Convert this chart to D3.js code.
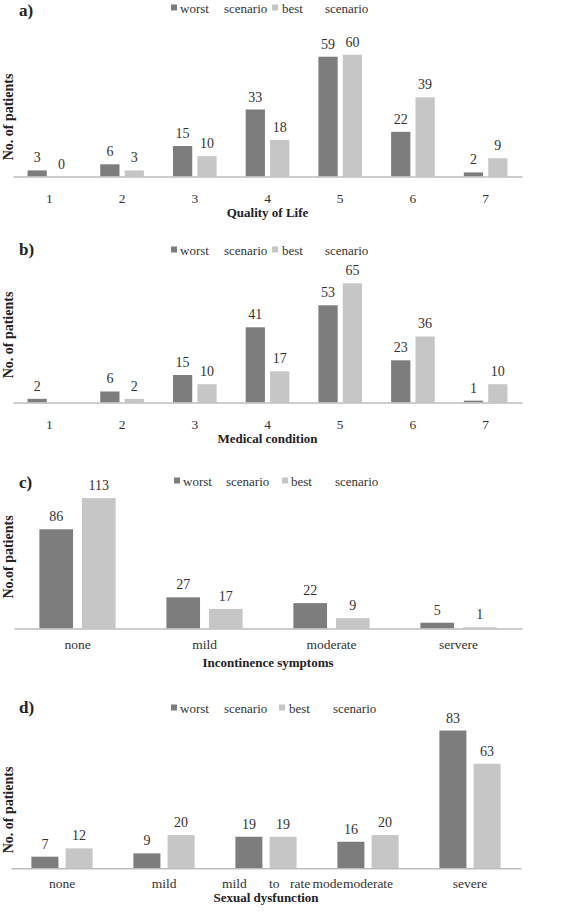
<!DOCTYPE html>
<html>
<head>
<meta charset="utf-8">
<script src="https://cdn.jsdelivr.net/npm/d3@7"></script>
<style>
  html, body { margin: 0; padding: 0; background: #fff; }
  svg text { font-family: "Liberation Serif", "Times New Roman", serif; }
</style>
</head>
<body>
<svg id="chart" width="567" height="913" font-family="Liberation Serif, serif"></svg>
<script>
// ---------- data ----------
const seriesNames = ["worst scenario", "best scenario"];

const qolCategories = ["1", "2", "3", "4", "5", "6", "7"];
const qolWorst = [3, 6, 15, 33, 59, 22, 2];
const qolBest  = [0, 3, 10, 18, 60, 39, 9];

const medCategories = ["1", "2", "3", "4", "5", "6", "7"];
const medWorst = [2, 6, 15, 41, 53, 23, 1];
const medBest  = [null, 2, 10, 17, 65, 36, 10];

const incCategories = ["none", "mild", "moderate", "servere"];
const incWorst = [86, 27, 22, 5];
const incBest  = [113, 17, 9, 1];

const sexCategories = ["none", "mild", "mild to rate mode", "moderate", "severe"];
const sexWorst = [7, 9, 19, 16, 83];
const sexBest  = [12, 20, 19, 20, 63];

const panelLetters = ["a)", "b)", "c)", "d)"];
const axisTitles = ["Quality of Life", "Medical condition", "Incontinence symptoms", "Sexual dysfunction"];
const yTitles = ["No. of patients", "No. of patients", "No.of patients", "No. of patients"];

// ---------- layout ----------
const FONT = "Liberation Serif, Times New Roman, serif";
const colors = ["#7d7d7d", "#c6c6c6"];
const panels = [
  { cats: qolCategories, worst: qolWorst, best: qolBest, x0: 13, x1: 522, base: 176.5, k: 2.03,
    tickY: 26, titleY: 40, legendY: 13, letterY: 16, yLabelC: 117,
    legX: [171, 180, 224, 272, 282, 325] },
  { cats: medCategories, worst: medWorst, best: medBest, x0: 13, x1: 522, base: 402.5, k: 1.834,
    tickY: 26, titleY: 40, legendY: 255, letterY: 255, yLabelC: 335,
    legX: [171, 180, 224, 272, 282, 325] },
  { cats: incCategories, worst: incWorst, best: incBest, x0: 14, x1: 522, base: 628.5, k: 1.154,
    tickY: 20.5, titleY: 38.5, legendY: 486, letterY: 488, yLabelC: 557,
    legX: [174, 183, 226, 282, 291, 335] },
  { cats: sexCategories, worst: sexWorst, best: sexBest, x0: 11, x1: 521, base: 868.3, k: 1.66,
    tickY: 19.5, titleY: 33.5, legendY: 713, letterY: 713, yLabelC: 810,
    legX: [171, 180, 224, 279, 289, 333] }
];

const svg = d3.select("#chart");

panels.forEach((p, i) => {
  const g = svg.append("g").attr("font-family", FONT);
  const x = d3.scaleBand().domain(p.cats).range([p.x0, p.x1]).paddingInner(0.4).paddingOuter(0.2);
  const xs = d3.scaleBand().domain(seriesNames).range([0, x.bandwidth()]).paddingInner(0.21).paddingOuter(0);
  const y = d3.scaleLinear().domain([0, 100]).range([p.base, p.base - 100 * p.k]);

  const rows = p.cats.map((c, j) => ({ cat: c, vals: [p.worst[j], p.best[j]] }));

  // bars
  const grp = g.selectAll("g.cat").data(rows).join("g").attr("class", "cat")
    .attr("transform", d => `translate(${x(d.cat)},0)`);
  grp.selectAll("rect").data(d => d.vals.map((v, s) => ({ v, s })).filter(d => d.v !== null))
    .join("rect")
    .attr("x", d => xs(seriesNames[d.s]))
    .attr("width", xs.bandwidth())
    .attr("y", d => y(d.v))
    .attr("height", d => y(0) - y(d.v))
    .attr("fill", d => colors[d.s]);
  grp.selectAll("text").data(d => d.vals.map((v, s) => ({ v, s })).filter(d => d.v !== null))
    .join("text")
    .attr("x", d => xs(seriesNames[d.s]) + xs.bandwidth() / 2)
    .attr("y", d => y(d.v) - 8)
    .attr("text-anchor", "middle")
    .attr("font-family", FONT)
    .attr("font-size", 14)
    .attr("fill", "#333")
    .text(d => d.v);

  // axis
  const ax = g.append("g").attr("transform", `translate(0,${p.base})`)
    .call(d3.axisBottom(x).tickSize(0).tickSizeOuter(0));
  ax.attr("font-family", FONT).attr("font-size", 13.5);
  ax.select(".domain").attr("stroke", "#bdbdbd").attr("stroke-width", 1.4);
  ax.selectAll(".tick text")
    .attr("y", p.tickY).attr("dy", 0)
    .attr("font-size", 13.5).attr("fill", "#333")
    .attr("font-family", FONT);
  // special spaced label in panel d
  ax.selectAll(".tick text").filter(d => d === "mild to rate mode").each(function () {
    const t = d3.select(this);
    t.text(null).attr("text-anchor", "start");
    const words = "mild to rate mode".split(" ");
    const offs = [-44, 3, 24, 46.5];
    words.forEach((w, wi) => t.append("tspan").attr("x", offs[wi]).text(w));
  });

  // axis title
  g.append("text")
    .attr("x", (p.x0 + p.x1) / 2)
    .attr("y", p.base + p.titleY)
    .attr("text-anchor", "middle")
    .attr("font-family", FONT)
    .attr("font-size", 13).attr("font-weight", "bold").attr("fill", "#222")
    .text(axisTitles[i]);

  // y title
  g.append("text")
    .attr("transform", `translate(13,${p.yLabelC}) rotate(-90)`)
    .attr("text-anchor", "middle")
    .attr("font-family", FONT)
    .attr("font-size", 14).attr("font-weight", "bold").attr("fill", "#222")
    .text(yTitles[i]);

  // panel letter
  g.append("text")
    .attr("x", 19).attr("y", p.letterY)
    .attr("font-family", FONT)
    .attr("font-size", 17).attr("font-weight", "bold").attr("fill", "#222")
    .text(panelLetters[i]);

  // legend
  const L = p.legX;
  const lg = g.append("g").attr("font-size", 13).attr("fill", "#333").attr("font-family", FONT);
  seriesNames.forEach((name, s) => {
    const parts = name.split(" ");
    lg.append("rect").attr("x", L[s * 3]).attr("y", p.legendY - 8.5)
      .attr("width", 6).attr("height", 6).attr("fill", colors[s]);
    lg.append("text").attr("x", L[s * 3 + 1]).attr("y", p.legendY).text(parts[0]);
    lg.append("text").attr("x", L[s * 3 + 2]).attr("y", p.legendY).text(parts[1]);
  });
});
</script>
</body>
</html>
